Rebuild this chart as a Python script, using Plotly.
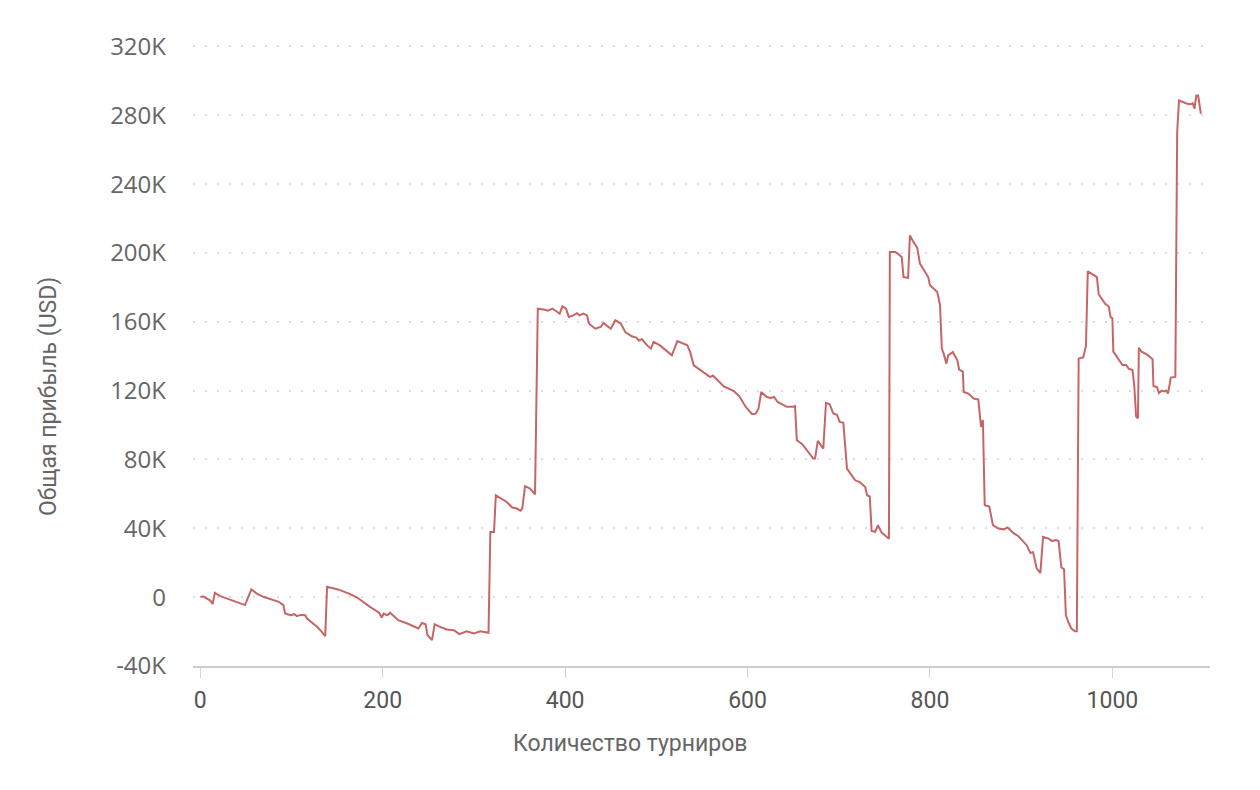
import plotly.graph_objects as go

# Tournament number
tournaments = [
    0, 3, 11, 13.5, 16, 22, 49, 53, 56, 62, 69, 86, 91, 93, 99, 103, 106, 110, 115, 117,
    128, 133, 137, 139, 146, 151, 163, 172, 186, 196, 199, 201, 205, 208, 217, 227, 239,
    243, 247, 249, 254, 257, 261, 270, 278, 284, 292, 300, 307, 316, 318, 322, 324, 331,
    336, 342, 347, 351, 353, 356, 361, 367, 370, 378, 381, 386, 394, 397, 401, 404, 409,
    413, 416, 420, 424, 426, 433, 439, 442, 450, 455, 461, 466, 473, 478, 481, 484, 490,
    494, 497, 504, 517, 520, 523, 534, 537, 541, 550, 559, 562, 574, 585, 591, 598, 605,
    609, 612, 615, 621, 625, 629, 633, 640, 643, 651, 652, 654, 660, 672, 674, 677, 683,
    686, 690, 694, 698, 701, 705, 709, 713, 718, 723, 729, 731, 734, 736, 740, 743, 747,
    755, 756, 762, 765, 769, 771, 776, 778, 782, 786, 789, 795, 798, 800, 808, 811, 813,
    815, 818, 820, 825, 830, 832, 836, 837, 842, 848, 853, 855, 856, 858, 860, 865, 869,
    875, 881, 885, 892, 897, 906, 910, 913, 917, 921, 924, 930, 934, 938, 941, 944, 947,
    949, 952, 955, 959, 961, 963, 968, 971, 973, 983, 985, 992, 996, 998, 1000, 1001, 1007,
    1011, 1015, 1018, 1022, 1024, 1026, 1028, 1029, 1032, 1038, 1044, 1045, 1049, 1051,
    1054, 1057, 1059, 1061, 1064, 1069, 1071, 1073, 1082, 1086, 1088, 1090, 1092, 1094, 1097,
]

# Cumulative profit, thousands of USD
profit_k = [
    0, 0.5, -2, -4, 2.5, 0.6, -4.6, 0.6, 4.5, 2.1, 0.2, -2.7, -4.6, -9.5, -10.5, -9.9, -11, -10.3, -10.5, -12.4,
    -17.2, -20, -22.6, 6, 5, 4.5, 2.1, -0.2, -5.6, -9, -11.8, -9.5, -10.5, -9, -13.4, -15.3, -18.2,
    -15, -15.7, -22, -25, -15.7, -16.8, -18.8, -19.2, -21.5, -19.8, -21.1, -19.8, -20.7, 37.9, 37.9, 59.2, 56.7,
    55.3, 52.1, 51.5, 50.2, 51.5, 64.5, 63.2, 59.8, 167.6, 167, 166.5, 167.7, 164.7, 169, 167.6, 162.8, 163.7,
    165, 163.7, 164.7, 163.7, 159, 156, 157, 159.3, 156, 160.9, 159, 154, 151.6, 150.8, 149, 150, 146.3,
    144.4, 148.3, 146.3, 140.5, 144.4, 148.8, 146.3, 142.5, 134.7, 131.4, 127.9, 128.8, 122.5, 119.8, 116.7, 110.5, 106.3,
    106.6, 109.6, 119.2, 116.3, 115.7, 116.3, 113.4, 111.5, 110.6, 110.6, 111.5, 91.2, 88.9, 80.5, 80.5, 90.8, 86.3,
    112.9, 112.1, 106.7, 106, 101.8, 101.3, 74.7, 71.8, 67.9, 66.8, 64, 59.2, 58.5, 38.5, 38, 41.8, 37.5,
    34, 200.5, 200.5, 199.5, 197.6, 186, 185.5, 210.2, 206.3, 203, 193.8, 188.9, 186, 181.2, 177.3, 169.6, 144.4,
    141.5, 135.7, 140.5, 142.5, 137.6, 132.2, 131, 119.2, 118.3, 115.4, 114.8, 102.8, 98.9, 103, 53.4, 52.7, 41.8,
    39.9, 39.4, 40.5, 37, 35.4, 30.2, 25.7, 26.1, 16.7, 14, 35, 34, 32.6, 33.2, 32.6, 17.3, 16.2,
    -10.5, -14.9, -18.2, -19.8, -19.8, 138.7, 139.3, 146, 189.3, 186, 176, 170.4, 168.9, 162.7, 162, 142.7, 138.2,
    134.9, 134.9, 132.7, 132, 122.7, 105, 104, 144.9, 142.6, 141, 138.2, 122.7, 121.9, 118.6,
    120, 119.5, 120, 118.3, 127.6, 128, 270, 288.6, 286.7, 286.4, 287, 283.8, 291.5, 291.5, 280.9,
]

y_tick_vals = [-40000, 0, 40000, 80000, 120000, 160000, 200000, 240000, 280000, 320000]
y_tick_text = ["-40K", "0", "40K", "80K", "120K", "160K", "200K", "240K", "280K", "320K"]
x_tick_vals = [0, 200, 400, 600, 800, 1000]

x_title = "Количество турниров"
y_title = "Общая прибыль (USD)"

profit_usd = [v * 1000 for v in profit_k]

title_font = "Roboto, sans-serif"

# page body has an 8px default margin; plot area target: x 193..1210, y 43..666 on screen
L, T, W, H = 185, 35, 1017, 623

fig = go.Figure()
fig.add_trace(go.Scatter(
    x=tournaments, y=profit_usd, mode="lines",
    line=dict(color="#c66566", width=2),
    hoverinfo="x+y", showlegend=False,
))

fig.update_layout(
    width=1260, height=790,
    paper_bgcolor="white", plot_bgcolor="white",
    margin=dict(l=L, r=1260 - L - W, t=T, b=790 - T - H),
    xaxis=dict(
        range=[-8, 1107], tickvals=x_tick_vals,
        showgrid=False, zeroline=False,
        showline=True, linecolor="#cccccc", linewidth=2,
        ticks="outside", ticklen=10, tickcolor="#ccd6eb", tickwidth=1,
        tickfont=dict(family=title_font, size=23, color="#555555"),
        ticklabelstandoff=2,
    ),
    yaxis=dict(
        range=[-40000, 322000], tickvals=y_tick_vals, ticktext=y_tick_text,
        showgrid=True, gridcolor="#dddddd", gridwidth=2, griddash="2px,10px",
        zeroline=False, showline=False, ticks="",
        tickfont=dict(family="Open Sans, DejaVu Sans, sans-serif", size=24, color="#666666"),
        ticklabelstandoff=26,
    ),
    annotations=[
        dict(text=x_title, xref="paper", yref="paper", x=(630 - 193) / W, y=-(743 - 666) / H,
             xanchor="center", yanchor="middle", showarrow=False,
             font=dict(family=title_font, size=23, color="#666666")),
        dict(text=y_title, xref="paper", yref="paper", x=-(193 - 48) / W, y=(666 - 397) / H,
             xanchor="center", yanchor="middle", showarrow=False, textangle=-90,
             font=dict(family=title_font, size=23, color="#666666")),
    ],
)

fig.write_html("out.html")
